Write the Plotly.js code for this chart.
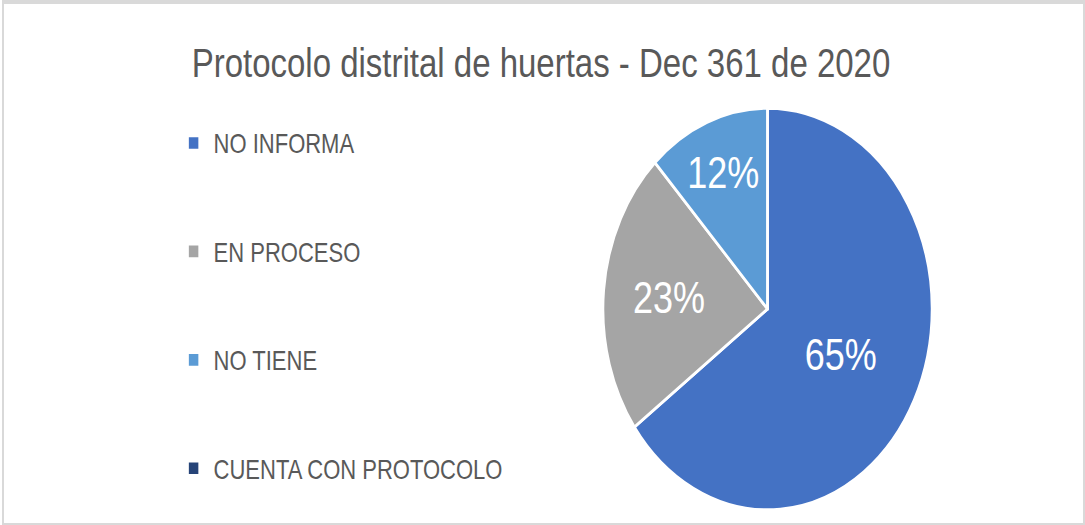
<!DOCTYPE html>
<html>
<head>
<meta charset="utf-8">
<script src="https://cdn.plot.ly/plotly-3.0.1.min.js"></script>
<style>
  html, body { margin: 0; padding: 0; background: #ffffff; overflow: hidden; }
  #wrap { position: absolute; left: 0; top: 0; width: 1085px; height: 525px; overflow: hidden; background: #fff; }
  #chart { position: absolute; left: 0; top: 0; width: 1085px; height: 430px; transform: scaleY(1.22093); transform-origin: 0 0; }
  #frame { position: absolute; left: 2px; top: 0; width: 1079px; height: 519px;
           border-top: 4px solid #d9d9d9; border-left: 2px solid #d9d9d9;
           border-right: 2px solid #d9d9d9; border-bottom: 2px solid #d9d9d9; pointer-events: none; }
</style>
</head>
<body>
<div id="wrap">
  <div id="chart"></div>
  <div id="frame"></div>
</div>
<script>
const chartTitle = 'Protocolo distrital de huertas - Dec 361 de 2020';
const categories = ['NO INFORMA', 'EN PROCESO', 'NO TIENE', 'CUENTA CON PROTOCOLO'];
const values = [65, 23, 12, 0];
const colors = ['#4472C4', '#A5A5A5', '#5B9BD5', '#264478'];

const FONT = '"Liberation Sans", Arial, sans-serif';

// extra blank lines give the legend entries their wide vertical spacing
const legendLabels = categories.map((c, i) => i < categories.length - 1 ? c + '<br> <br> ' : c);

const trace = {
  type: 'pie',
  labels: legendLabels,
  values: values,
  sort: false,
  direction: 'clockwise',
  rotation: 0,
  marker: { colors: colors, line: { color: '#ffffff', width: 2.5 } },
  textinfo: 'percent',
  texttemplate: '%{percent:.0%}',
  textposition: 'inside',
  insidetextorientation: 'horizontal',
  textfont: { family: FONT, size: 36, color: '#ffffff' },
  domain: { x: [0.5558, 0.8590], y: [0.0288, 0.7940] },
  hoverinfo: 'label+percent',
  showlegend: true
};

const layout = {
  width: 1085,
  height: 430,
  margin: { l: 0, r: 0, t: 0, b: 0 },
  paper_bgcolor: '#ffffff',
  plot_bgcolor: '#ffffff',
  title: {
    text: chartTitle,
    font: { family: FONT, size: 33, color: '#595959' },
    x: 0.4986, xanchor: 'center',
    y: 0.88, yanchor: 'middle',
    xref: 'paper', yref: 'container'
  },
  legend: {
    x: 0.16, xanchor: 'left',
    y: 0.776, yanchor: 'top',
    font: { family: FONT, size: 22, color: '#595959' },
    valign: 'top',
    itemclick: false,
    bgcolor: 'rgba(0,0,0,0)'
  },
  showlegend: true
};

Plotly.newPlot('chart', [trace], layout, { displayModeBar: false, staticPlot: true });
</script>
</body>
</html>
